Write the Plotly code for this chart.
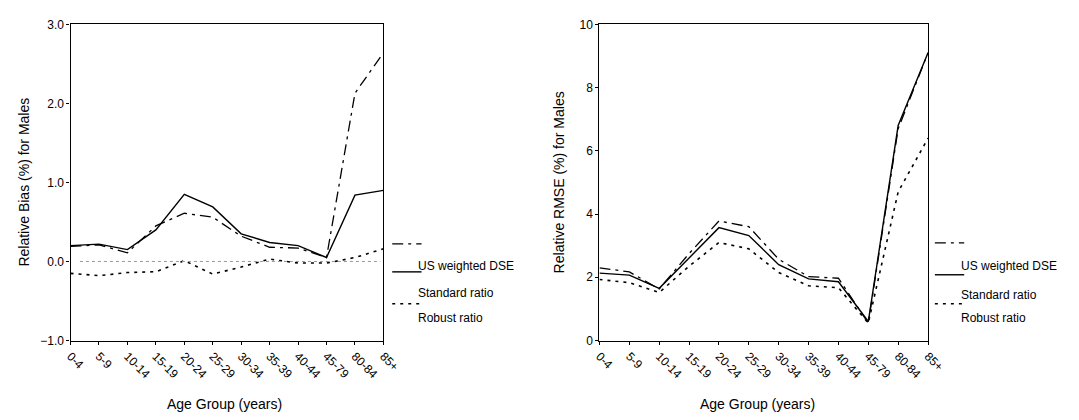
import plotly.graph_objects as go

age_groups = ["0-4", "5-9", "10-14", "15-19", "20-24", "25-29", "30-34",
              "35-39", "40-44", "45-79", "80-84", "85+"]

bias_dse = [0.19, 0.21, 0.11, 0.45, 0.61, 0.56, 0.32, 0.18, 0.17, 0.05, 2.13, 2.64]
bias_standard = [0.20, 0.22, 0.15, 0.40, 0.85, 0.69, 0.35, 0.24, 0.20, 0.05, 0.84, 0.90]
bias_robust = [-0.15, -0.18, -0.14, -0.13, 0.01, -0.16, -0.07, 0.03, -0.02, -0.02, 0.05, 0.16]

rmse_dse = [2.30, 2.17, 1.63, 2.75, 3.78, 3.60, 2.57, 2.02, 1.97, 0.55, 6.70, 9.10]
rmse_standard = [2.13, 2.07, 1.65, 2.60, 3.57, 3.32, 2.40, 1.95, 1.86, 0.60, 6.80, 9.10]
rmse_robust = [1.93, 1.83, 1.52, 2.35, 3.10, 2.90, 2.15, 1.73, 1.67, 0.55, 4.70, 6.40]

series_names = ["US weighted DSE", "Standard ratio", "Robust ratio"]

FONT = "Liberation Sans, Arial, sans-serif"
dashes = ["11px,5px,3px,5px", "solid", "3px,5px"]
widths = [1.3, 1.4, 1.6]

fig = go.Figure()
for vals, d, w, n in zip([bias_dse, bias_standard, bias_robust], dashes, widths, series_names):
    fig.add_trace(go.Scatter(x=age_groups, y=vals, mode="lines", name=n,
                             line=dict(color="black", dash=d, width=w),
                             xaxis="x", yaxis="y", showlegend=False))
for vals, d, w, n in zip([rmse_dse, rmse_standard, rmse_robust], dashes, widths, series_names):
    fig.add_trace(go.Scatter(x=age_groups, y=vals, mode="lines", name=n,
                             line=dict(color="black", dash=d, width=w),
                             xaxis="x2", yaxis="y2", showlegend=False))

W, H = 1079, 420
ydom = [1 - 345 / H, 1 - 18 / H]
axis_common = dict(showline=True, linecolor="black", linewidth=1.3, mirror=True,
                   showgrid=False, zeroline=False, ticks="outside", ticklen=3,
                   tickcolor="black", tickfont=dict(family=FONT, size=12, color="black"))

fig.update_layout(
    width=W, height=H, margin=dict(l=0, r=0, t=0, b=0),
    paper_bgcolor="white", plot_bgcolor="white",
    xaxis=dict(domain=[66 / W, 386 / W], type="category", range=[0, 11],
               tickangle=45, anchor="y", **axis_common),
    yaxis=dict(domain=ydom, range=[-1, 3], tickvals=[-1, 0, 1, 2, 3],
               tickformat=".1f", anchor="x", **axis_common),
    xaxis2=dict(domain=[607 / W, 943 / W], type="category", range=[0, 11],
                tickangle=45, anchor="y2", **axis_common),
    yaxis2=dict(domain=ydom, range=[0, 10], tickvals=[0, 2, 4, 6, 8, 10],
                anchor="x2", **axis_common),
)

# dotted zero reference line on bias panel
fig.add_shape(type="line", xref="x domain", yref="y", x0=0.03, x1=0.99, y0=0, y1=0,
              line=dict(color="#999999", width=1, dash="dot"))

# axis titles
for x, y, txt, ang in [(18, 181, "Relative Bias (%) for Males", -90),
                       (566, 181, "Relative RMSE (%) for Males", -90),
                       (223, 411, "Age Group (years)", 0),
                       (769, 411, "Age Group (years)", 0)]:
    fig.add_annotation(x=x / W, y=1 - y / H, xref="paper", yref="paper", text=txt,
                       showarrow=False, textangle=ang,
                       font=dict(family=FONT, size=14, color="black"),
                       xanchor="center", yanchor="middle")

# custom legends
for sx0, sx1, tx, ys, ty in [(395, 425, 419, [245, 274, 307], [268, 296, 322]),
                             (950, 980, 975, [244, 277, 307], [268, 298, 322])]:
    for i in range(3):
        fig.add_shape(type="line", xref="paper", yref="paper",
                      x0=sx0 / W, x1=sx1 / W, y0=1 - ys[i] / H, y1=1 - ys[i] / H,
                      line=dict(color="black", dash=dashes[i], width=widths[i]))
        fig.add_annotation(x=tx / W, y=1 - ty[i] / H, xref="paper", yref="paper",
                           text=series_names[i], showarrow=False,
                           font=dict(family=FONT, size=12, color="black"),
                           xanchor="left", yanchor="middle")

fig.write_html("out.html")
